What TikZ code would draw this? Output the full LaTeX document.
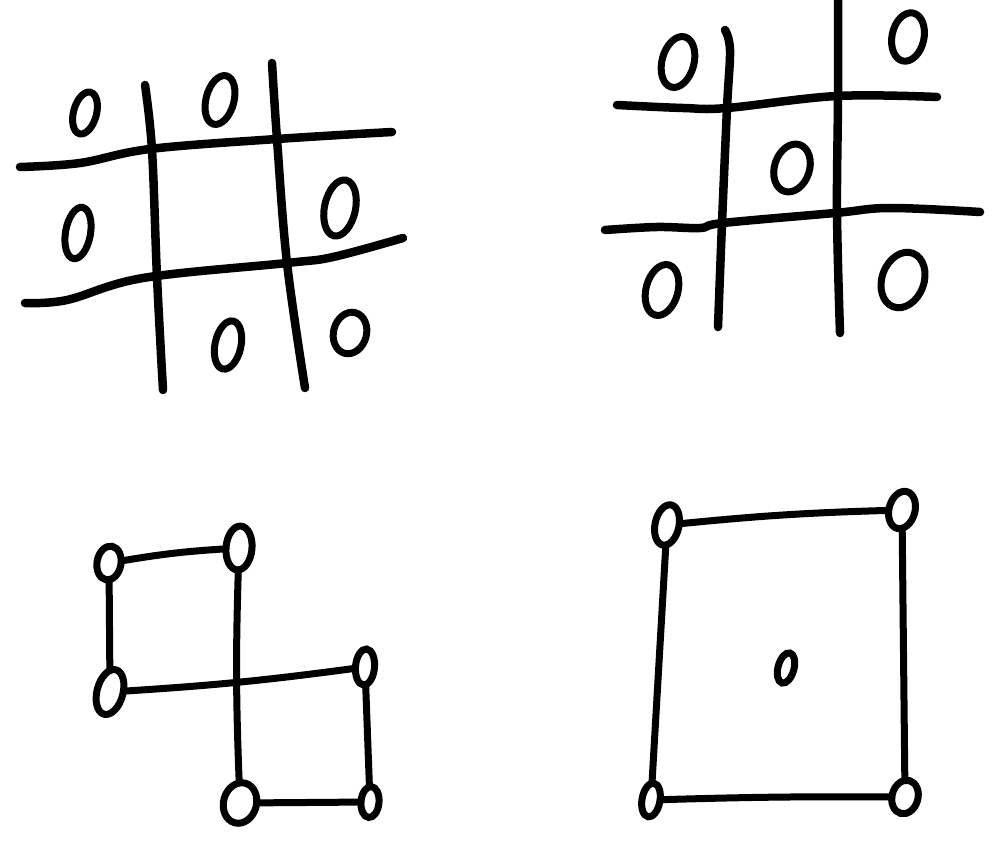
\documentclass[tikz,border=0pt]{standalone}
\usetikzlibrary{shapes.geometric}
\tikzset{
  ov/.style={draw, ellipse, line width=7pt, inner sep=0pt, outer sep=0pt},
  gridline/.style={line width=8.5pt, line cap=round, line join=round},
  edge/.style={line width=7pt, line cap=round, line join=round},
}
\begin{document}
\begin{tikzpicture}[x=1pt,y=-1pt]
\useasboundingbox (0,0) rectangle (1000,858);
% ---------- top-left grid ----------
\draw[gridline] plot[smooth, tension=0.6] coordinates {(20,167) (80,163) (150,149) (277,139) (392,132)};
\draw[gridline] plot[smooth, tension=0.6] coordinates {(25,303) (67,300) (143,278) (287,263) (333,257) (403,238)};
\draw[gridline] plot[smooth, tension=0.6] coordinates {(145,85) (152,150) (157,277) (163,390)};
\draw[gridline] plot[smooth, tension=0.6] coordinates {(272,63) (277,139) (287,263) (305,388)};
\node[ov, minimum width=23pt, minimum height=43pt, rotate=-15] (tl1) at (85,113) {};
\node[ov, minimum width=28pt, minimum height=50pt, rotate=-15] (tl2) at (220,100) {};
\node[ov, minimum width=25pt, minimum height=52pt, rotate=-10] (tl3) at (78,233) {};
\node[ov, minimum width=31pt, minimum height=57pt, rotate=-12] (tl4) at (340,208) {};
\node[ov, minimum width=26pt, minimum height=49pt, rotate=-12] (tl5) at (228,345) {};
\node[ov, minimum width=33pt, minimum height=42pt, rotate=-15] (tl6) at (350,333) {};
% ---------- top-right grid ----------
\draw[gridline] plot[smooth, tension=0.6] coordinates {(617,105) (683,108) (727,108) (837,96) (937,97)};
\draw[gridline] plot[smooth, tension=0.6] coordinates {(605,230) (657,227) (700,228) (723,223) (835,213) (890,208) (980,212)};
\draw[gridline] plot[smooth, tension=0.6] coordinates {(725,30) (730,50) (727,108) (722,223) (718,327)};
\draw[gridline] plot[smooth, tension=0.6] coordinates {(838,0) (838,97) (837,213) (840,333)};
\node[ov, minimum width=32pt, minimum height=52pt, rotate=-15] (tr1) at (678,62) {};
\node[ov, minimum width=32pt, minimum height=49pt, rotate=-12] (tr2) at (908,37) {};
\node[ov, minimum width=35pt, minimum height=49pt, rotate=-18] (tr3) at (792,168) {};
\node[ov, minimum width=32pt, minimum height=52pt, rotate=-15] (tr4) at (662,290) {};
\node[ov, minimum width=42pt, minimum height=57pt, rotate=-20] (tr5) at (903,280) {};
% ---------- bottom-left shape ----------
\node[ov, minimum width=24pt, minimum height=34pt, rotate=-10] (A) at (109,563) {};
\node[ov, minimum width=26pt, minimum height=44pt, rotate=-5] (B) at (239,548) {};
\node[ov, minimum width=26pt, minimum height=46pt, rotate=-15] (C) at (110,692) {};
\node[ov, minimum width=19pt, minimum height=36pt, rotate=-5] (D) at (365,667) {};
\node[ov, minimum width=33pt, minimum height=41pt, rotate=-15] (E) at (240,803) {};
\node[ov, minimum width=18pt, minimum height=31pt, rotate=-5] (F) at (370,802) {};
\draw[edge] (A) to[bend left=3] (B);
\draw[edge] (A) -- (C);
\draw[edge] (B) to[bend right=2] (E);
\draw[edge] (C) to[bend right=2] (D);
\draw[edge] (D) -- (F);
\draw[edge] (E) -- (F);
% ---------- bottom-right shape ----------
\node[ov, minimum width=24pt, minimum height=41pt, rotate=-12] (P) at (667,525) {};
\node[ov, minimum width=26pt, minimum height=38pt, rotate=-15] (Q) at (902,510) {};
\node[ov, minimum width=16pt, minimum height=31pt, rotate=-15] (R) at (786,668) {};
\node[ov, minimum width=18pt, minimum height=34pt, rotate=-10] (S) at (651,800) {};
\node[ov, minimum width=26pt, minimum height=34pt, rotate=-15] (T) at (905,797) {};
\draw[edge] (P) to[bend left=2] (Q);
\draw[edge] (P) -- (S);
\draw[edge] (Q) -- (T);
\draw[edge] (S) to[bend left=1] (T);
\end{tikzpicture}
\end{document}
